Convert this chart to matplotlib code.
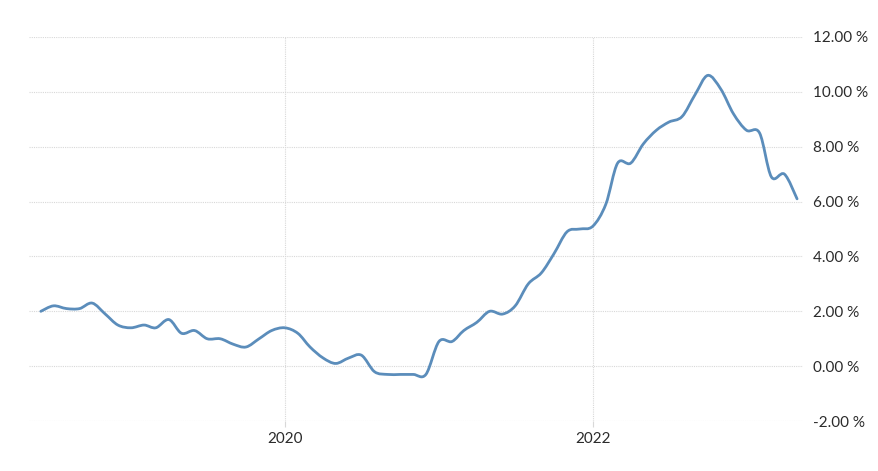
import numpy as np
import pandas as pd
import matplotlib
matplotlib.use("Agg")
import matplotlib.pyplot as plt
import matplotlib.dates as mdates
from matplotlib.path import Path
from matplotlib.patches import PathPatch

# monthly inflation rate, Jun 2018 - May 2023 (%)
start_month = "2018-06-01"
inflation = [
    2.0, 2.2, 2.1, 2.1, 2.3, 1.9, 1.5,                          # 2018
    1.4, 1.5, 1.4, 1.7, 1.2, 1.3, 1.0, 1.0, 0.8, 0.7, 1.0, 1.3,  # 2019
    1.4, 1.2, 0.7, 0.3, 0.1, 0.3, 0.4, -0.2, -0.3, -0.3, -0.3, -0.3,  # 2020
    0.9, 0.9, 1.3, 1.6, 2.0, 1.9, 2.2, 3.0, 3.4, 4.1, 4.9, 5.0,  # 2021
    5.1, 5.9, 7.4, 7.4, 8.1, 8.6, 8.9, 9.1, 9.9, 10.6, 10.1, 9.2,  # 2022
    8.6, 8.5, 6.9, 7.0, 6.1,                                     # 2023
]
year_ticks = ["2020-01-01", "2022-01-01"]
year_labels = ["2020", "2022"]
y_ticks = [-2, 0, 2, 4, 6, 8, 10, 12]

dates = pd.date_range(start_month, periods=len(inflation), freq="MS")
x = mdates.date2num(dates.to_pydatetime())
y = np.array(inflation)

fig = plt.figure(figsize=(8.79, 4.71), dpi=100)
ax = fig.add_axes([0.033, 0.106, 0.8805, 0.8155])

# smooth line drawn as cubic bezier segments through the monthly values
pts = np.column_stack([x, y])
ext = np.vstack([pts[0], pts, pts[-1]])
verts = [tuple(pts[0])]
codes = [Path.MOVETO]
for i in range(len(pts) - 1):
    p0, p1, p2, p3 = ext[i], ext[i + 1], ext[i + 2], ext[i + 3]
    c1 = p1 + (p2 - p0) / 6.0
    c2 = p2 - (p3 - p1) / 6.0
    verts += [tuple(c1), tuple(c2), tuple(p2)]
    codes += [Path.CURVE4] * 3
line = PathPatch(Path(verts, codes), facecolor="none", edgecolor="#5b8dbb",
                 linewidth=2.0, capstyle="round", joinstyle="round", zorder=3)
ax.add_patch(line)

ax.set_xlim(mdates.date2num(pd.Timestamp("2018-05-04")),
            mdates.date2num(pd.Timestamp("2023-05-15")))
ax.set_ylim(-2, 12)

ax.set_xticks(mdates.date2num(pd.to_datetime(year_ticks).to_pydatetime()))
ax.set_xticklabels(year_labels)
ax.set_yticks(y_ticks)
ax.set_yticklabels([f"{v:.2f} %" for v in y_ticks])

ax.yaxis.tick_right()
for s in ax.spines.values():
    s.set_visible(False)

ax.grid(True, color="#d8d8d8", linestyle=(0, (1, 1)), linewidth=0.8, zorder=0)
ax.tick_params(axis="y", length=0, pad=7, labelsize=11, labelcolor="#2b2b2b")
ax.tick_params(axis="x", length=4, width=0.8, color="#d8d8d8", pad=4,
               labelsize=11, labelcolor="#2b2b2b")
for lbl in ax.get_xticklabels() + ax.get_yticklabels():
    lbl.set_fontfamily(["Lato", "DejaVu Sans"])

fig.savefig("out.png", dpi=100, facecolor="white")
